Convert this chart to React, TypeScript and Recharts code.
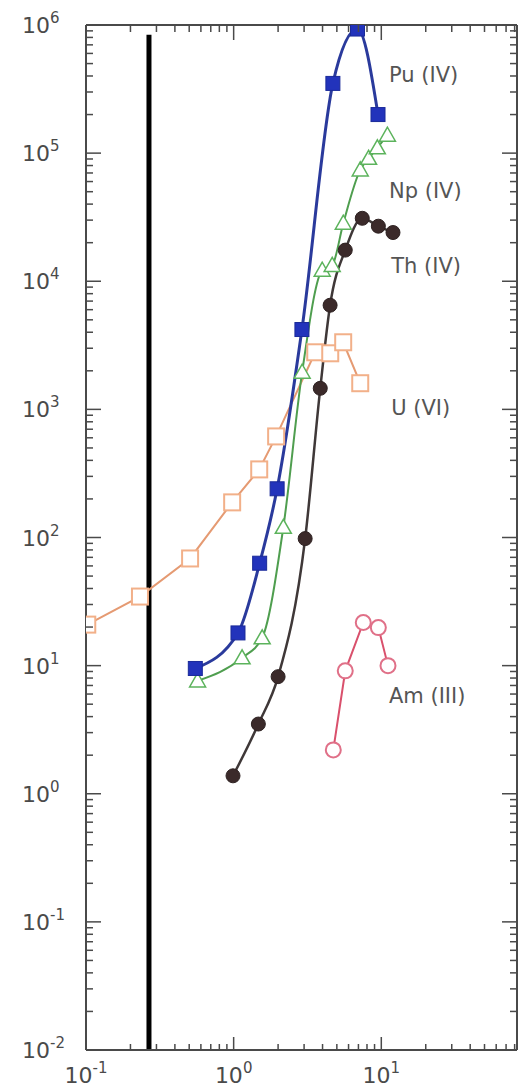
import { LineChart, Line, XAxis, YAxis, ReferenceLine, ReferenceDot } from 'recharts';

type Pt = { x: number; y: number };

// distribution coefficients vs. concentration
const PU: Pt[] = [
  { x: 0.55, y: 9.5 }, { x: 1.07, y: 18 }, { x: 1.5, y: 63 }, { x: 1.97, y: 240 },
  { x: 2.9, y: 4200 }, { x: 4.7, y: 3.5e5 }, { x: 6.9, y: 9.3e5 }, { x: 9.5, y: 2.0e5 },
];
const NP: Pt[] = [
  { x: 0.57, y: 7.6 }, { x: 1.14, y: 11.5 }, { x: 1.56, y: 16.5 }, { x: 2.17, y: 120 },
  { x: 2.91, y: 1950 }, { x: 3.98, y: 1.22e4 }, { x: 4.65, y: 1.33e4 }, { x: 5.53, y: 2.84e4 },
  { x: 7.2, y: 7.4e4 }, { x: 8.2, y: 9.1e4 }, { x: 9.4, y: 1.1e5 }, { x: 11, y: 1.38e5 },
];
const TH: Pt[] = [
  { x: 0.99, y: 1.38 }, { x: 1.47, y: 3.5 }, { x: 2.0, y: 8.2 }, { x: 3.05, y: 98 },
  { x: 3.86, y: 1460 }, { x: 4.5, y: 6500 }, { x: 5.7, y: 1.75e4 }, { x: 7.43, y: 3.1e4 },
  { x: 9.55, y: 2.69e4 }, { x: 12, y: 2.4e4 },
];
const U: Pt[] = [
  { x: 0.102, y: 20.9 }, { x: 0.232, y: 34.6 }, { x: 0.507, y: 68.6 }, { x: 0.977, y: 188 },
  { x: 1.49, y: 340 }, { x: 1.94, y: 615 }, { x: 3.57, y: 2790 }, { x: 4.51, y: 2740 },
  { x: 5.52, y: 3340 }, { x: 7.2, y: 1600 },
];
const AM: Pt[] = [
  { x: 4.73, y: 2.2 }, { x: 5.7, y: 9.1 }, { x: 7.55, y: 21.7 }, { x: 9.55, y: 19.8 }, { x: 11.1, y: 10 },
];

const SERIES_LABELS = [
  { text: 'Pu (IV)', x: 11.1, y: 4.07e5 },
  { text: 'Np (IV)', x: 11.1, y: 5.14e4 },
  { text: 'Th (IV)', x: 11.5, y: 1.33e4 },
  { text: 'U (VI)', x: 11.5, y: 1040 },
  { text: 'Am (III)', x: 11.1, y: 5.8 },
];

const X_DECADES = [0.1, 1, 10];
const Y_DECADES = [1e-2, 1e-1, 1, 10, 100, 1e3, 1e4, 1e5, 1e6];
const MINOR_STEPS = [1, 2, 3, 4, 5, 6, 7, 8, 9];
const X_DOMAIN: [number, number] = [0.1, 83];
const Y_DOMAIN: [number, number] = [0.01, 1e6];
const MARKER_X = 0.267;
const MARKER_TOP = 8.4e5;

const AXIS = '#4a4a4a';
const FONT = '"DejaVu Sans", sans-serif';

function buildTicks(decades: number[], max: number) {
  const out: number[] = [];
  decades.forEach((d) =>
    MINOR_STEPS.forEach((m) => {
      const v = d * m;
      if (v <= max * 1.0001) out.push(v);
    })
  );
  return out;
}

const X_TICKS = buildTicks(X_DECADES, X_DOMAIN[1]);
const Y_TICKS = buildTicks(Y_DECADES, Y_DOMAIN[1]);

const isMajor = (v: number) => {
  const e = Math.log10(v);
  return Math.abs(e - Math.round(e)) < 1e-6;
};
const expOf = (v: number) => Math.round(Math.log10(v));

function LeftTick({ x, y, payload }: any) {
  const major = isMajor(payload.value);
  return (
    <g>
      <line x1={x} y1={y} x2={x + (major ? 15 : 7)} y2={y} stroke={AXIS} strokeWidth={1.5} />
      {major && (
        <text x={22} y={y + 8} textAnchor="start" fontSize={22} fill={AXIS} fontFamily={FONT}>
          10<tspan dy={-10} fontSize={15}>{expOf(payload.value)}</tspan>
        </text>
      )}
    </g>
  );
}

function RightTick({ x, y, payload }: any) {
  const major = isMajor(payload.value);
  return <line x1={x} y1={y} x2={x - (major ? 15 : 7)} y2={y} stroke={AXIS} strokeWidth={1.5} />;
}

function BottomTick({ x, y, payload }: any) {
  const major = isMajor(payload.value);
  return (
    <g>
      <line x1={x} y1={y} x2={x} y2={y - (major ? 13 : 6)} stroke={AXIS} strokeWidth={1.5} />
      {major && (
        <text x={x} y={y + 33} textAnchor="middle" fontSize={22} fill={AXIS} fontFamily={FONT}>
          10<tspan dy={-10} fontSize={15}>{expOf(payload.value)}</tspan>
        </text>
      )}
    </g>
  );
}

function TopTick({ x, y, payload }: any) {
  const major = isMajor(payload.value);
  return <line x1={x} y1={y} x2={x} y2={y + (major ? 15 : 7)} stroke={AXIS} strokeWidth={1.5} />;
}

const puDot = ({ cx, cy, index }: any) => (
  <rect key={`pu-${index}`} x={cx - 7} y={cy - 7} width={14} height={14} fill="#2233bb" stroke="#1a2a99" strokeWidth={1} />
);
const npDot = ({ cx, cy, index }: any) => (
  <polygon
    key={`np-${index}`}
    points={`${cx},${cy - 8} ${cx - 8},${cy + 6} ${cx + 8},${cy + 6}`}
    fill="#fff"
    stroke="#5cb35c"
    strokeWidth={1.5}
  />
);
const thDot = ({ cx, cy, index }: any) => (
  <circle key={`th-${index}`} cx={cx} cy={cy} r={7} fill="#3b2a2a" stroke="#2e2222" strokeWidth={1} />
);
const uDot = ({ cx, cy, index }: any) => (
  <rect key={`u-${index}`} x={cx - 8} y={cy - 8} width={16} height={16} fill="#fff" stroke="#f2b089" strokeWidth={2} />
);
const amDot = ({ cx, cy, index }: any) => (
  <circle key={`am-${index}`} cx={cx} cy={cy} r={7.5} fill="#fff" stroke="#e07088" strokeWidth={2} />
);

export default function App() {
  return (
    <div style={{ position: 'absolute', left: 0, top: 0, background: '#fff' }}>
      <LineChart width={518} height={1088} margin={{ top: 0, right: 0, bottom: 0, left: 0 }}>
        <XAxis
          dataKey="x"
          type="number"
          scale="log"
          domain={X_DOMAIN}
          allowDataOverflow
          ticks={X_TICKS}
          interval={0}
          height={38}
          tickSize={0}
          tickMargin={0}
          tickLine={false}
          tick={BottomTick}
          axisLine={{ stroke: AXIS, strokeWidth: 2 }}
        />
        <XAxis
          xAxisId="top"
          orientation="top"
          dataKey="x"
          type="number"
          scale="log"
          domain={X_DOMAIN}
          allowDataOverflow
          ticks={X_TICKS}
          interval={0}
          height={25}
          tickSize={0}
          tickMargin={0}
          tickLine={false}
          tick={TopTick}
          axisLine={{ stroke: AXIS, strokeWidth: 2 }}
        />
        <YAxis
          dataKey="y"
          type="number"
          scale="log"
          domain={Y_DOMAIN}
          allowDataOverflow
          ticks={Y_TICKS}
          interval={0}
          width={86}
          tickSize={0}
          tickMargin={0}
          tickLine={false}
          tick={LeftTick}
          axisLine={{ stroke: AXIS, strokeWidth: 2 }}
        />
        <YAxis
          yAxisId="right"
          orientation="right"
          dataKey="y"
          type="number"
          scale="log"
          domain={Y_DOMAIN}
          allowDataOverflow
          ticks={Y_TICKS}
          interval={0}
          width={1}
          tickSize={0}
          tickMargin={0}
          tickLine={false}
          tick={RightTick}
          axisLine={{ stroke: AXIS, strokeWidth: 2 }}
        />

        <ReferenceLine
          segment={[{ x: MARKER_X, y: MARKER_TOP }, { x: MARKER_X, y: Y_DOMAIN[0] }]}
          stroke="#000"
          strokeWidth={5}
        />

        <Line data={U} dataKey="y" type="linear" stroke="#e59a72" strokeWidth={2} dot={uDot} activeDot={false} isAnimationActive={false} />
        <Line data={AM} dataKey="y" type="linear" stroke="#d9506c" strokeWidth={2} dot={amDot} activeDot={false} isAnimationActive={false} />
        <Line data={NP} dataKey="y" type="monotone" stroke="#4f9e4f" strokeWidth={2} dot={npDot} activeDot={false} isAnimationActive={false} />
        <Line data={TH} dataKey="y" type="monotone" stroke="#3f3838" strokeWidth={2.5} dot={thDot} activeDot={false} isAnimationActive={false} />
        <Line data={PU} dataKey="y" type="monotone" stroke="#2a3a9c" strokeWidth={3} dot={puDot} activeDot={false} isAnimationActive={false} />

        {SERIES_LABELS.map((l) => (
          <ReferenceDot
            key={l.text}
            x={l.x}
            y={l.y}
            r={1}
            fill="none"
            stroke="none"
            label={{ value: l.text, position: 'right', offset: 0, fontSize: 21, fill: '#555', fontFamily: FONT }}
          />
        ))}
      </LineChart>
    </div>
  );
}
